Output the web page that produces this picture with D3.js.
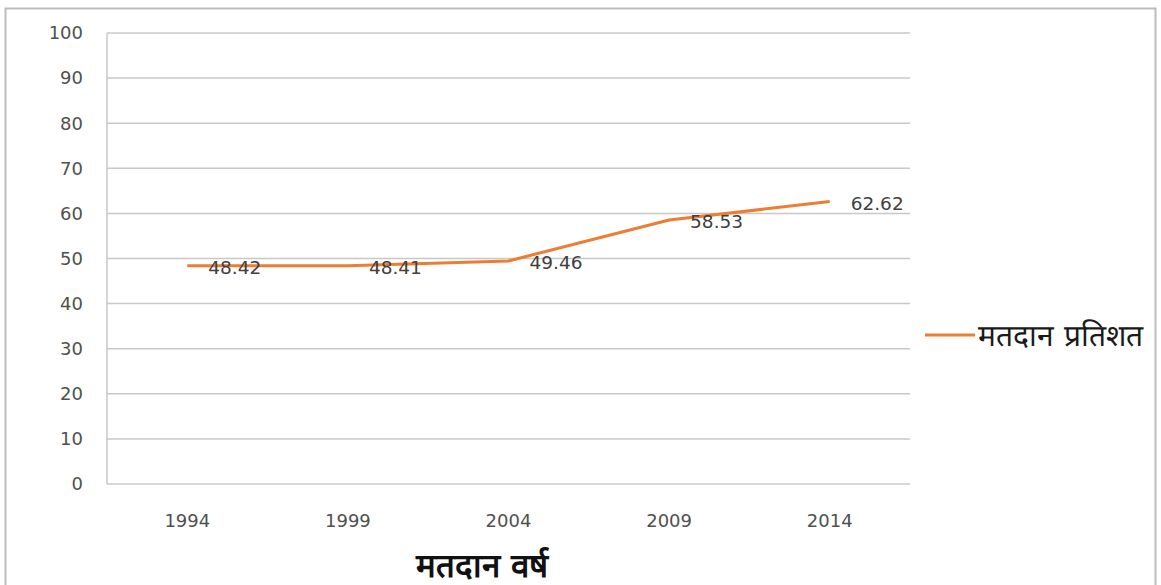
<!DOCTYPE html>
<html>
<head>
<meta charset="utf-8">
<script src="https://cdn.jsdelivr.net/npm/d3@7"></script>
<style>
  body { margin: 0; background: #fff; }
  text { font-family: "DejaVu Sans", "Open Sans", sans-serif; }
</style>
</head>
<body>
<svg id="chart" width="1161" height="585"></svg>
<script>
// chart data
const years = ['1994', '1999', '2004', '2009', '2014'];
const turnout = [48.42, 48.41, 49.46, 58.53, 62.62];
const yTicks = [0, 10, 20, 30, 40, 50, 60, 70, 80, 90, 100];
const seriesName = 'मतदान प्रतिशत';
const xTitle = 'मतदान वर्ष';

const svg = d3.select('#chart');

// outer frame (bottom edge is cut off in the picture)
svg.append('path')
    .attr('d', 'M5.5,585 L5.5,8.5 L1155.5,8.5 L1155.5,585')
    .attr('fill', 'none')
    .attr('stroke', '#bdbdbd')
    .attr('stroke-width', 2);

const plotLeft = 107, plotRight = 910, plotTop = 33, plotBottom = 484;

const x = d3.scaleBand().domain(years).range([plotLeft, plotRight]);
const y = d3.scaleLinear().domain([0, 100]).range([plotBottom, plotTop]);

// gridlines
svg.append('g')
    .selectAll('line')
    .data(yTicks)
    .enter()
    .append('line')
    .attr('x1', plotLeft)
    .attr('x2', plotRight)
    .attr('y1', d => y(d))
    .attr('y2', d => y(d))
    .attr('stroke', '#c8c8c8')
    .attr('stroke-width', 1.5);

// y axis line
svg.append('line')
    .attr('x1', plotLeft).attr('x2', plotLeft)
    .attr('y1', y(100)).attr('y2', y(0))
    .attr('stroke', '#c8c8c8')
    .attr('stroke-width', 1.5);

// y tick labels
svg.append('g')
    .selectAll('text')
    .data(yTicks)
    .enter()
    .append('text')
    .attr('x', 83)
    .attr('y', d => y(d))
    .attr('dy', '0.35em')
    .attr('text-anchor', 'end')
    .attr('font-size', 18)
    .attr('fill', '#505050')
    .text(d => d);

// x tick labels
svg.append('g')
    .selectAll('text')
    .data(years)
    .enter()
    .append('text')
    .attr('x', d => x(d) + x.bandwidth() / 2)
    .attr('y', 521)
    .attr('dy', '0.35em')
    .attr('text-anchor', 'middle')
    .attr('font-size', 18)
    .attr('fill', '#505050')
    .text(d => d);

// line
const line = d3.line()
    .x((d, i) => x(years[i]) + x.bandwidth() / 2)
    .y(d => y(d));

svg.append('path')
    .datum(turnout)
    .attr('d', line)
    .attr('fill', 'none')
    .attr('stroke', '#ed7d31')
    .attr('stroke-width', 3)
    .attr('stroke-linejoin', 'round');

// data labels
svg.append('g')
    .selectAll('text')
    .data(turnout)
    .enter()
    .append('text')
    .attr('x', (d, i) => x(years[i]) + x.bandwidth() / 2 + 21)
    .attr('y', d => y(d) + 1.5)
    .attr('dy', '0.35em')
    .attr('font-size', 18.5)
    .attr('fill', '#404040')
    .text(d => d.toFixed(2));

// legend
svg.append('line')
    .attr('x1', 925).attr('x2', 975)
    .attr('y1', 335).attr('y2', 335)
    .attr('stroke', '#ed7d31')
    .attr('stroke-width', 3);

svg.append('text')
    .attr('x', 978)
    .attr('y', 335)
    .attr('dy', '0.35em')
    .attr('font-size', 30)
    .attr('font-weight', 500)
    .attr('fill', '#1a1a1a')
    .text(seriesName);

// x axis title
svg.append('text')
    .attr('x', 482)
    .attr('y', 565)
    .attr('dy', '0.35em')
    .attr('text-anchor', 'middle')
    .attr('font-size', 33)
    .attr('font-weight', 600)
    .attr('fill', '#111')
    .text(xTitle);
</script>
</body>
</html>
